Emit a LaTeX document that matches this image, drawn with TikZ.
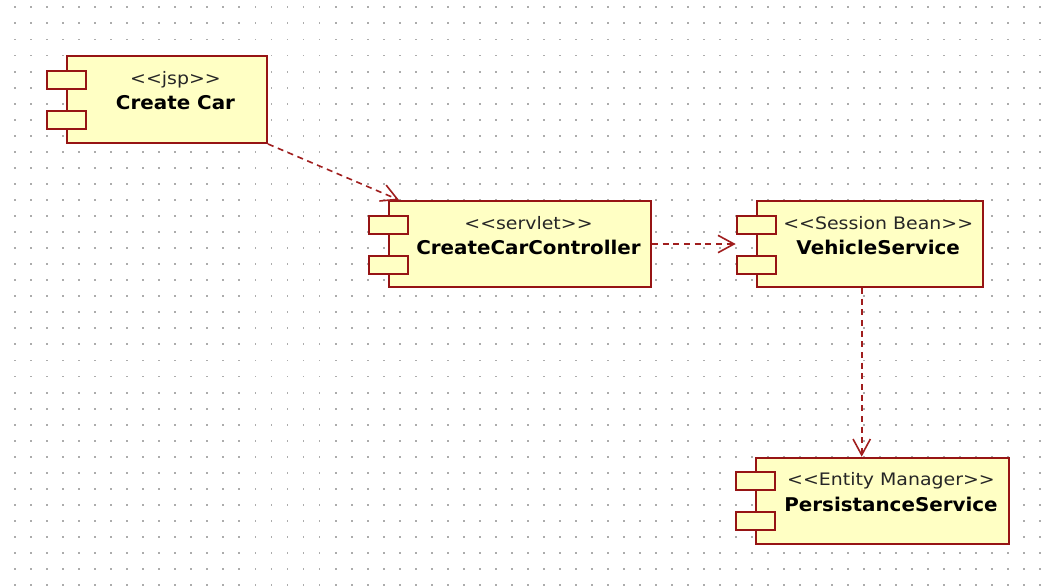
\documentclass[tikz,border=0pt]{standalone}
\usepackage{fontspec}
\setmainfont{DejaVu Sans}
\newfontfamily\stereofont[FakeStretch=1.1]{DejaVu Sans}
\newfontfamily\titlefont[FakeStretch=1.05]{DejaVu Sans}
\usetikzlibrary{arrows.meta}

\definecolor{compborder}{RGB}{150,20,20}
\definecolor{compfill}{RGB}{255,255,196}
\definecolor{griddot}{RGB}{172,172,172}
\definecolor{deplink}{RGB}{160,30,30}

% stereotype text with the angle brackets kept apart (no guillemet ligature)
\newcommand\stereo[1]{<{}<#1>{}>}

% a UML component: name, left, top, width, height, stereotype, title
\newcommand\umlcomp[7]{%
  \pgfmathsetmacro\compcx{(#2+19+#2+#4)/2}%
  \node[compbody, minimum width={#4*0.75pt}, minimum height={#5*0.75pt}] (#1) at (#2,#3) {};
  \node[compport] (#1-p1) at (#2-20,#3+14.5) {};
  \node[compport] (#1-p2) at (#2-20,#3+54.5) {};
  \node[stereotext] (#1-st) at (\compcx,#3+29) {\stereo{#6}};
  \node[titletext] (#1-nm) at (\compcx,#3+54.5) {#7};
}

\tikzset{
  compbody/.style={draw=compborder, fill=compfill, line width=1.5pt,
    rectangle, inner sep=0pt, anchor=north west},
  compport/.style={compbody, minimum width={39*0.75pt}, minimum height={18*0.75pt}},
  stereotext/.style={anchor=base, inner sep=0pt, text=black!85,
    font=\stereofont\fontsize{12.9}{14}\selectfont},
  titletext/.style={anchor=base, inner sep=0pt, text=black,
    font=\titlefont\bfseries\fontsize{14.2}{16}\selectfont},
  dependency/.style={draw=deplink, line width=1.2pt, dash pattern=on 4.5pt off 3.5pt,
    -{Straight Barb[length=12pt,width=13pt,line width=1.2pt]}},
}

\begin{document}
\begin{tikzpicture}[x=0.75pt,y=-0.75pt]
  \fill[white] (0,0) rectangle (1051,586);
  \useasboundingbox (0,0) rectangle (1051,586);

  % dotted drawing grid
  \foreach \i in {0,...,64}
    \foreach \j in {0,...,36}
      \fill[griddot] (14.2+16.02*\i,6.4+16.05*\j) rectangle ++(1.9,1.9);

  % components
  \umlcomp{cc}{66}{55}{200}{87}{jsp}{Create Car}
  \umlcomp{ctl}{388}{200}{262}{86}{servlet}{CreateCarController}
  \umlcomp{vs}{755.7}{200}{226}{86}{Session Bean}{VehicleService}
  \umlcomp{ps}{755}{456.7}{253}{86.5}{Entity Manager}{PersistanceService}

  % dependency end points
  \path (ctl.north west) ++(11,0) coordinate (ctl-in);
  \path (vs.south west) ++(106,0) coordinate (vs-out);

  % dependencies
  \draw[dependency] (cc.south east) -- (ctl-in);
  \draw[dependency] (ctl.east) -- (ctl.east -| vs-p1.west);
  \draw[dependency] (vs-out) -- (vs-out |- ps.north);
\end{tikzpicture}
\end{document}
